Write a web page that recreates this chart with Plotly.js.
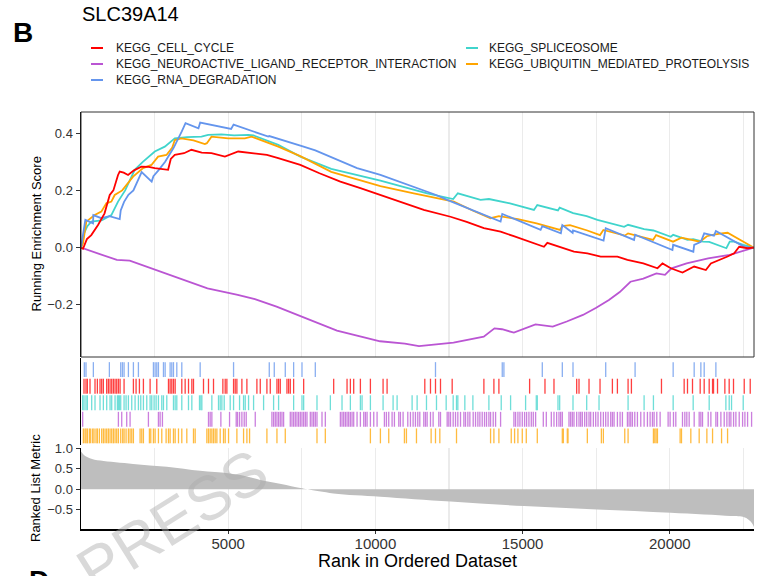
<!DOCTYPE html>
<html>
<head>
<meta charset="utf-8">
<script src="https://cdn.plot.ly/plotly-3.0.1.min.js"></script>
<style>html,body{margin:0;padding:0;background:#fff;}#chart{width:759px;height:576px;}</style>
</head>
<body>
<div id="chart"></div>
<script>
// ---------------- DATA ----------------
const geneSets = ["KEGG_CELL_CYCLE", "KEGG_NEUROACTIVE_LIGAND_RECEPTOR_INTERACTION", "KEGG_RNA_DEGRADATION", "KEGG_SPLICEOSOME", "KEGG_UBIQUITIN_MEDIATED_PROTEOLYSIS"];
const setColors = ["#FF0000", "#BA55D3", "#6495ED", "#40D4CC", "#FFA500"];
const nGenes = 22860;

// Running enrichment score (rank, ES)
const cellCycleX = [0, 68, 200, 350, 578, 800, 976, 1100, 1258, 1315, 1450, 1599, 1800, 2052, 2300, 2506, 2959, 3050, 3186, 3500, 3752, 4100, 4432, 4888, 5340, 5800, 6315, 6700, 7449, 8100, 8810, 9490, 10170, 10900, 11643, 12551, 13100, 13684, 14252, 14700, 15045, 15725, 15840, 16300, 16745, 17200, 17653, 18221, 18561, 19100, 19582, 19752, 20034, 20431, 20826, 21224, 21395, 21962, 22187, 22357, 22643, 22860];
const cellCycleY = [0, -0.004, 0.03, 0.044, 0.079, 0.12, 0.184, 0.2, 0.254, 0.266, 0.262, 0.254, 0.27, 0.283, 0.282, 0.278, 0.272, 0.31, 0.324, 0.33, 0.342, 0.332, 0.330, 0.318, 0.336, 0.33, 0.324, 0.313, 0.289, 0.26, 0.231, 0.208, 0.184, 0.16, 0.132, 0.108, 0.09, 0.068, 0.056, 0.04, 0.027, 0.003, 0.017, 0.0, -0.014, -0.02, -0.031, -0.031, -0.043, -0.055, -0.072, -0.055, -0.072, -0.087, -0.066, -0.078, -0.055, -0.031, -0.020, 0.003, -0.002, 0];

const neuroX = [0, 1218, 1656, 2537, 4296, 5323, 5908, 6643, 8694, 10160, 11000, 11480, 12100, 12653, 13680, 14044, 14300, 14704, 15438, 16024, 16500, 17050, 17500, 17932, 18300, 18663, 19100, 19544, 19837, 20058, 20571, 21303, 22037, 22547, 22860];
const neuroY = [0, -0.043, -0.045, -0.078, -0.142, -0.165, -0.180, -0.206, -0.290, -0.327, -0.335, -0.344, -0.338, -0.332, -0.311, -0.282, -0.285, -0.297, -0.268, -0.276, -0.258, -0.235, -0.21, -0.183, -0.155, -0.119, -0.108, -0.090, -0.095, -0.072, -0.055, -0.037, -0.025, -0.008, 0];

const rnaDegX = [0, 60, 113, 147, 408, 420, 690, 964, 1315, 1349, 1463, 1610, 1780, 1950, 2060, 2400, 2460, 2630, 2858, 3141, 3254, 3424, 3550, 3990, 4048, 5100, 5182, 6360, 6395, 6565, 6939, 7222, 7506, 7959, 9377, 10170, 11530, 12041, 12438, 14252, 14309, 15612, 15669, 16300, 16349, 16700, 16712, 17750, 17823, 18786, 18821, 20090, 20114, 20800, 20828, 21055, 21168, 21500, 21565, 22528, 22860];
const rnaDegY = [0, 0.035, 0.07, 0.097, 0.085, 0.114, 0.103, 0.11, 0.100, 0.13, 0.16, 0.185, 0.2, 0.24, 0.264, 0.231, 0.25, 0.27, 0.30, 0.348, 0.37, 0.406, 0.435, 0.417, 0.437, 0.415, 0.43, 0.388, 0.39, 0.385, 0.372, 0.365, 0.355, 0.34, 0.278, 0.254, 0.202, 0.185, 0.167, 0.091, 0.118, 0.062, 0.075, 0.05, 0.079, 0.052, 0.06, 0.025, 0.068, 0.027, 0.045, -0.008, 0.01, -0.014, 0.01, 0.02, 0.05, 0.042, 0.058, 0.003, 0];

const spliceX = [0, 57, 102, 216, 350, 700, 1031, 1258, 1500, 1825, 2100, 2506, 2846, 3186, 3600, 4092, 4320, 4772, 5200, 5680, 5862, 6700, 7449, 8500, 10170, 11000, 11757, 12642, 12800, 13571, 13855, 14571, 15102, 15385, 15499, 16202, 16259, 16717, 17177, 17540, 18448, 18583, 19127, 19444, 20034, 20114, 20602, 20794, 21128, 21338, 21922, 22035, 22187, 22494, 22860];
const spliceY = [0, 0.02, 0.05, 0.075, 0.091, 0.095, 0.114, 0.161, 0.2, 0.272, 0.3, 0.336, 0.353, 0.382, 0.386, 0.388, 0.394, 0.396, 0.392, 0.394, 0.392, 0.359, 0.318, 0.275, 0.234, 0.21, 0.190, 0.17, 0.19, 0.167, 0.17, 0.155, 0.14, 0.132, 0.149, 0.13, 0.14, 0.121, 0.11, 0.097, 0.073, 0.08, 0.065, 0.06, 0.038, 0.045, 0.027, 0.03, 0.021, 0.02, -0.002, 0.021, 0.021, 0.01, 0];

const ubiqX = [0, 68, 181, 465, 690, 861, 1031, 1145, 1400, 1599, 1769, 2109, 2392, 2619, 2903, 3100, 3186, 3412, 3821, 4207, 4275, 4432, 5000, 5567, 5793, 6700, 7449, 8500, 10170, 11303, 12664, 13300, 13912, 14195, 14841, 15475, 16270, 16349, 16610, 17199, 17629, 17744, 18470, 18583, 19432, 19535, 20110, 20397, 21022, 21259, 21452, 21758, 21962, 22860];
const ubiqY = [0, 0.015, 0.091, 0.114, 0.126, 0.155, 0.161, 0.184, 0.2, 0.225, 0.248, 0.278, 0.289, 0.318, 0.324, 0.35, 0.376, 0.382, 0.375, 0.362, 0.365, 0.388, 0.382, 0.382, 0.388, 0.353, 0.32, 0.265, 0.215, 0.190, 0.161, 0.13, 0.103, 0.11, 0.1, 0.085, 0.062, 0.075, 0.079, 0.06, 0.044, 0.062, 0.042, 0.05, 0.027, 0.044, 0.021, 0.035, 0.021, 0.04, 0.045, 0.05, 0.052, 0];

// Hit positions (rank) for each gene set
const cellCycleHits = [102, 170, 216, 306, 476, 556, 646, 703, 760, 873, 930, 987, 1043, 1100, 1157, 1213, 1270, 1327, 1463, 1780, 1871, 1984, 2120, 2347, 2574, 2971, 3027, 3084, 3141, 3198, 3424, 3538, 3652, 3765, 3821, 4161, 4331, 4501, 4819, 4898, 4955, 5182, 5238, 5295, 5465, 5635, 5975, 6089, 6315, 6429, 6656, 6712, 6769, 6996, 7053, 7109, 7222, 7563, 8583, 9037, 9150, 9263, 9490, 9830, 10261, 10397, 11678, 11871, 12041, 12211, 12608, 13685, 14025, 14195, 15238, 15760, 16066, 16837, 16916, 17256, 17630, 18050, 18220, 18583, 18696, 19717, 20488, 20601, 20771, 21032, 21168, 21338, 21452, 21485, 21621, 21870, 22017, 22164, 22528, 22732];
const neuroHits = [57, 1270, 1383, 1553, 1667, 2290, 2630, 2687, 2766, 4331, 4388, 4445, 4751, 5046, 5272, 5318, 5386, 5465, 5544, 5612, 5919, 6485, 6542, 6599, 6656, 6712, 6769, 6826, 6882, 7109, 7166, 7222, 7279, 7336, 7392, 7449, 7506, 7563, 7620, 7676, 7789, 7846, 7903, 7959, 8016, 8186, 8299, 8810, 8866, 8923, 8980, 9037, 9093, 9150, 9207, 9263, 9377, 9490, 9604, 9660, 9717, 9830, 9944, 10057, 10306, 10374, 10453, 10567, 10646, 10794, 10850, 10941, 11100, 11190, 11281, 11360, 11440, 11508, 11644, 11701, 11757, 11871, 11961, 12154, 12211, 12438, 12494, 12551, 12642, 12721, 12800, 12891, 13005, 13061, 13141, 13209, 13322, 13401, 13481, 13549, 13628, 13707, 13775, 13855, 13912, 14002, 14082, 14252, 14705, 14762, 14841, 14909, 14989, 15068, 15136, 15215, 15295, 15363, 15442, 15703, 15805, 15975, 16066, 16156, 16236, 16293, 16349, 16576, 16633, 16689, 16746, 16837, 16916, 16973, 17029, 17109, 17177, 17256, 17313, 17404, 17483, 17562, 17653, 17744, 17823, 17903, 17993, 18050, 18107, 18220, 18311, 18390, 18560, 18617, 18674, 18730, 18810, 18900, 19014, 19127, 19240, 19331, 19410, 19467, 19558, 19671, 19943, 20011, 20125, 20204, 20431, 20510, 20578, 20658, 20828, 20998, 21054, 21111, 21304, 21395, 21565, 21621, 21735, 21848, 21939, 22018, 22075, 22166, 22245, 22358, 22472, 22551, 22642, 22778];
const rnaDegHits = [113, 170, 420, 964, 1349, 1406, 1463, 1610, 1780, 1950, 2460, 2517, 2574, 2630, 2801, 2858, 3027, 3084, 3141, 3254, 3424, 4048, 5182, 6395, 6565, 6939, 7222, 7506, 7959, 12041, 14309, 14365, 15669, 16349, 16712, 17823, 18821, 20114, 20828, 21055, 21168, 21565];
const spliceHits = [57, 102, 170, 216, 363, 476, 646, 760, 873, 987, 1043, 1157, 1236, 1270, 1304, 1349, 1463, 1531, 1610, 1724, 1837, 1950, 2030, 2120, 2234, 2347, 2404, 2483, 2551, 2630, 2744, 2801, 2914, 3141, 3198, 3254, 3424, 3651, 3765, 4025, 4071, 4105, 4445, 4671, 4728, 4785, 4864, 5068, 5182, 5386, 5522, 5578, 5692, 5862, 6202, 6542, 6712, 7222, 7506, 7563, 8016, 8470, 8866, 9150, 9490, 9547, 9830, 10261, 10601, 10737, 11247, 11417, 11735, 12075, 12404, 12642, 12755, 12800, 13038, 13311, 13855, 14274, 14592, 15102, 15465, 15499, 16202, 16259, 16712, 17177, 17596, 18583, 19127, 19444, 20114, 20794, 21338, 21905, 22018, 22097, 22494];
const ubiqHits = [80, 136, 170, 216, 284, 329, 397, 442, 510, 556, 624, 703, 760, 817, 873, 930, 987, 1043, 1100, 1157, 1213, 1270, 1349, 1417, 1463, 1531, 1610, 1667, 1724, 1780, 2007, 2064, 2120, 2324, 2370, 2460, 2517, 2630, 2744, 2891, 2971, 3027, 3141, 3198, 3311, 3424, 3594, 3821, 3878, 4275, 4331, 4388, 4445, 4501, 4558, 4615, 4728, 4841, 4898, 5012, 5295, 5522, 5635, 5726, 6315, 6656, 6939, 8016, 8299, 9830, 10170, 10453, 10986, 11054, 11395, 11893, 12041, 12188, 12755, 13912, 14025, 14195, 14614, 14728, 14841, 14989, 15125, 15499, 16349, 16383, 16519, 16542, 17199, 17676, 17744, 18470, 18583, 19444, 19490, 19535, 19580, 20351, 20397, 20714, 20998, 21259, 21452, 21758, 21962];

// Ranked list metric
const rankX = [0, 100, 300, 660, 1770, 2915, 4048, 5000, 5600, 6088, 6800, 7449, 7700, 8575, 10170, 12551, 15045, 17540, 20034, 22075, 22528, 22755, 22860];
const rankY = [0.92, 0.84, 0.76, 0.70, 0.62, 0.55, 0.45, 0.39, 0.32, 0.23, 0.13, 0.03, 0.0, -0.10, -0.18, -0.30, -0.41, -0.49, -0.57, -0.65, -0.68, -0.79, -0.92];

const xTickVals = [5000, 10000, 15000, 20000];
const xTickText = ["5000", "10000", "15000", "20000"];

// ---------------- BUILD ----------------
const FONT = "Liberation Sans, Arial, sans-serif";
const curveX = [cellCycleX, neuroX, rnaDegX, spliceX, ubiqX];
const curveY = [cellCycleY, neuroY, rnaDegY, spliceY, ubiqY];
const hits = [cellCycleHits, neuroHits, rnaDegHits, spliceHits, ubiqHits];
// rug row for each set (0 = bottom)
const rugRow = [3, 1, 4, 2, 0];

const traces = [];
// ranked metric area
traces.push({
  x: rankX, y: rankY, xaxis: 'x3', yaxis: 'y3', type: 'scatter', mode: 'lines',
  fill: 'tozeroy', fillcolor: '#BEBEBE', line: {color: '#BEBEBE', width: 0, shape: 'spline'},
  showlegend: false, hoverinfo: 'skip'
});
// rug ticks
for (let i = 0; i < geneSets.length; i++) {
  const xs = [], ys = [];
  const lo = rugRow[i] + 0.1, hi = rugRow[i] + 1.0;
  hits[i].forEach(h => { xs.push(h, h, null); ys.push(lo, hi, null); });
  traces.push({
    x: xs, y: ys, xaxis: 'x2', yaxis: 'y2', type: 'scatter', mode: 'lines',
    line: {color: setColors[i], width: 1.3}, opacity: 0.75, showlegend: false, hoverinfo: 'skip'
  });
}
// running ES curves
const drawOrder = [1, 3, 4, 2, 0];
drawOrder.forEach(i => {
  traces.push({
    x: curveX[i], y: curveY[i], xaxis: 'x', yaxis: 'y', type: 'scatter', mode: 'lines',
    name: geneSets[i], line: {color: setColors[i], width: 1.8}, showlegend: false
  });
});

// plot area: left 81, right 754, top 112, bottom 529
const W = 759, H = 576, L = 81, R = 5, T = 112, B = 47;
const pw = W - L - R, ph = H - T - B;
const px2x = p => (p - L) / pw;
const py2y = p => (H - B - p) / ph;

const annotations = [];
const shapes = [];
// Custom legend (two columns)
const legendPos = [
  {col: 0, row: 0}, {col: 0, row: 1}, {col: 0, row: 2}, {col: 1, row: 0}, {col: 1, row: 1}
];
const colLineX = [91, 466], colTextX = [114, 487], rowY = [48, 64, 80];
geneSets.forEach((name, i) => {
  const p = legendPos[i];
  shapes.push({type: 'line', xref: 'paper', yref: 'paper',
    x0: px2x(colLineX[p.col]), x1: px2x(colLineX[p.col] + 12),
    y0: py2y(rowY[p.row]), y1: py2y(rowY[p.row]),
    line: {color: setColors[i], width: 2}});
  annotations.push({text: name, xref: 'paper', yref: 'paper', x: px2x(colTextX[p.col]), y: py2y(rowY[p.row]),
    xanchor: 'left', yanchor: 'middle', showarrow: false, font: {family: FONT, size: 12, color: '#1a1a1a'}});
});
// panel labels
annotations.push({text: '<b>B</b>', xref: 'paper', yref: 'paper', x: px2x(23), y: py2y(32), xanchor: 'center', yanchor: 'middle',
  showarrow: false, font: {family: FONT, size: 28, color: '#000'}});
annotations.push({text: '<b>D</b>', xref: 'paper', yref: 'paper', x: px2x(39), y: py2y(580), xanchor: 'center', yanchor: 'middle',
  showarrow: false, font: {family: FONT, size: 28, color: '#000'}});
// axis titles
annotations.push({text: 'Running Enrichment Score', xref: 'paper', yref: 'paper', x: px2x(36), y: py2y(234.5), textangle: -90,
  xanchor: 'center', yanchor: 'middle', showarrow: false, font: {family: FONT, size: 13, color: '#000'}});
annotations.push({text: 'Ranked List Metric', xref: 'paper', yref: 'paper', x: px2x(35), y: py2y(488), textangle: -90,
  xanchor: 'center', yanchor: 'middle', showarrow: false, font: {family: FONT, size: 13, color: '#000'}});
annotations.push({text: 'Rank in Ordered Dataset', xref: 'paper', yref: 'paper', x: 0.5, y: py2y(561),
  xanchor: 'center', yanchor: 'middle', showarrow: false, font: {family: FONT, size: 18, color: '#000'}});
// watermark
annotations.push({text: 'PRESS', xref: 'paper', yref: 'paper', x: px2x(172), y: py2y(520), textangle: -32,
  xanchor: 'center', yanchor: 'middle', showarrow: false, font: {family: FONT, size: 62, color: 'rgba(170,170,170,0.45)'}});

// main panel frame
shapes.push({type: 'rect', xref: 'x domain', yref: 'y domain', x0: 0, x1: 1, y0: 0, y1: 1,
  line: {color: '#333', width: 1}, fillcolor: 'rgba(0,0,0,0)', layer: 'above'});

const gridCol = '#EBEBEB';
const baseX = {range: [0, nGenes], zeroline: false, showline: false, fixedrange: true};
const layout = {
  width: W, height: H,
  margin: {l: L, r: R, t: T, b: B, pad: 0},
  paper_bgcolor: '#fff', plot_bgcolor: 'rgba(0,0,0,0)',
  font: {family: FONT, color: '#333'},
  title: {text: 'SLC39A14', x: 82 / W, xanchor: 'left', xref: 'container', y: 1 - 14 / H, yanchor: 'middle',
    font: {family: FONT, size: 20, color: '#000'}},
  showlegend: false,
  xaxis: Object.assign({}, baseX, {domain: [0, 1], anchor: 'y', tickmode: 'array', tickvals: xTickVals, showticklabels: false, ticks: '',
    showgrid: true, gridcolor: gridCol, gridwidth: 1.3, minor: {dtick: 2500, tick0: 0, showgrid: true, gridcolor: gridCol, gridwidth: 1.3}}),
  yaxis: {domain: [py2y(357), 1], anchor: 'x', range: [-0.382, 0.474], tickmode: 'array', tickvals: [-0.2, 0, 0.2, 0.4], tickformat: '.1f',
    ticks: 'outside', ticklen: 4, tickcolor: '#333', tickwidth: 1, showline: true, linecolor: '#000', linewidth: 1.5,
    showgrid: false, zeroline: false, tickfont: {family: FONT, size: 13, color: '#333'}, fixedrange: true},
  xaxis2: Object.assign({}, baseX, {domain: [0, 1], anchor: 'y2', showticklabels: false, ticks: '', showgrid: false}),
  yaxis2: {domain: [py2y(445), py2y(358)], anchor: 'x2', range: [0, 5.25], showticklabels: false, ticks: '',
    showline: true, linecolor: '#000', linewidth: 1.5, showgrid: false, zeroline: false, fixedrange: true},
  xaxis3: Object.assign({}, baseX, {domain: [0, 1], anchor: 'y3', tickmode: 'array', tickvals: xTickVals, ticktext: xTickText,
    ticks: 'outside', ticklen: 3, ticklabelstandoff: -3,
    tickcolor: '#333', showline: true, linecolor: '#000', linewidth: 1.5, showgrid: true, gridcolor: gridCol, gridwidth: 1.3,
    minor: {dtick: 2500, tick0: 0, showgrid: true, gridcolor: gridCol, gridwidth: 1.3},
    tickfont: {family: FONT, size: 15, color: '#333'}}),
  yaxis3: {domain: [0, py2y(447.5)], anchor: 'x3', range: [-0.968, 1.02], tickmode: 'array', tickvals: [-0.5, 0, 0.5, 1.0], tickformat: '.1f',
    ticks: 'outside', ticklen: 4, tickcolor: '#333', showline: true, linecolor: '#000', linewidth: 1.5,
    showgrid: false, zeroline: false, tickfont: {family: FONT, size: 13, color: '#333'}, fixedrange: true},
  annotations: annotations,
  shapes: shapes
};

Plotly.newPlot('chart', traces, layout, {staticPlot: true, displayModeBar: false});
</script>
</body>
</html>
